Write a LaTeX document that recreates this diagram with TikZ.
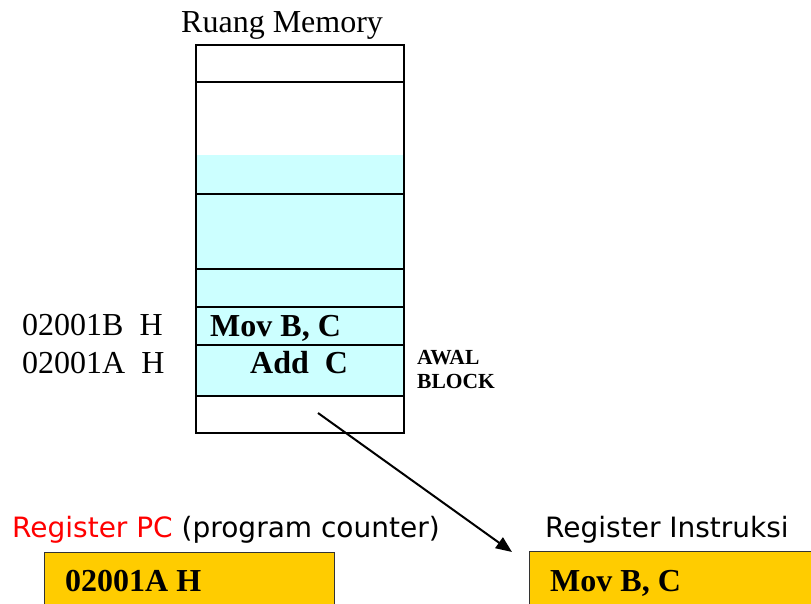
\documentclass[tikz,border=0pt]{standalone}
\usepackage{fontspec}
\setmainfont{Liberation Serif}
\newfontfamily\uisans{DejaVu Sans}
\usetikzlibrary{arrows.meta}
\definecolor{memcyan}{HTML}{CCFFFF}
\definecolor{regyellow}{HTML}{FFCC00}
\definecolor{pcred}{HTML}{FF0000}
\tikzset{
  memcell/.style={draw=black, line width=2.2pt, inner sep=0pt, minimum width=208pt, anchor=north west},
  regbox/.style={draw=black!80, line width=1.2pt, fill=regyellow, inner sep=0pt, anchor=north west},
  serif/.style={font=\fontsize{32}{34}\selectfont, anchor=base west, inner sep=0pt},
  serifbold/.style={font=\fontsize{32}{34}\selectfont\bfseries, anchor=base west, inner sep=0pt},
  tagbold/.style={font=\fontsize{21.5}{23}\selectfont\bfseries, anchor=base west, inner sep=0pt},
  uilabel/.style={font=\fontsize{28}{30}\selectfont\uisans, anchor=base west, inner sep=0pt},
}
\begin{document}
\begin{tikzpicture}[x=1pt,y=-1pt]
\useasboundingbox (0,0) rectangle (811,604);
\clip (0,0) rectangle (811,604);

% memory column: shaded region, then the cells on top
\fill[memcyan] (195,155) rectangle (403,395);
\node[memcell, minimum height=37pt]  (c1) at (195,44)  {};
\node[memcell, minimum height=112pt] (c2) at (195,81)  {};
\node[memcell, minimum height=75pt]  (c3) at (195,193) {};
\node[memcell, minimum height=38pt]  (c4) at (195,268) {};
\node[memcell, minimum height=38pt]  (c5) at (195,306) {};
\node[memcell, minimum height=51pt]  (c6) at (195,344) {};
\node[memcell, minimum height=37pt]  (c7) at (195,395) {};

\node[serif] (title) at (181,33) {Ruang Memory};
\node[serifbold] (movmem) at (210,336) {Mov B, C};
\node[serifbold] (addmem) at (250,373) {Add\ \ C};
\node[serif] (addrB) at (22,335) {02001B\ \ H};
\node[serif] (addrA) at (22,373) {02001A\ \ H};
\node[tagbold] (awal) at (417,364) {AWAL};
\node[tagbold] (block) at (417,388) {BLOCK};

% registers
\node[uilabel] (pclabel) at (12,537) {\textcolor{pcred}{Register PC} (program counter)};
\node[uilabel] (irlabel) at (545,537) {Register Instruksi};
\node[regbox, minimum width=290pt, minimum height=80pt] (pc) at (44,552) {};
\node[regbox, minimum width=320pt, minimum height=80pt] (ir) at (529,551) {};
\node[serifbold] (pcval) at (65,591) {02001A H};
\node[serifbold] (irval) at (550,591) {Mov B, C};

% fetch arrow from memory to the instruction register
\coordinate (src) at (318,413);
\coordinate (dst) at (512,552);
\draw[line width=2pt, -{Triangle[length=16pt,width=13pt]}] (src) -- (dst);
\end{tikzpicture}
\end{document}
